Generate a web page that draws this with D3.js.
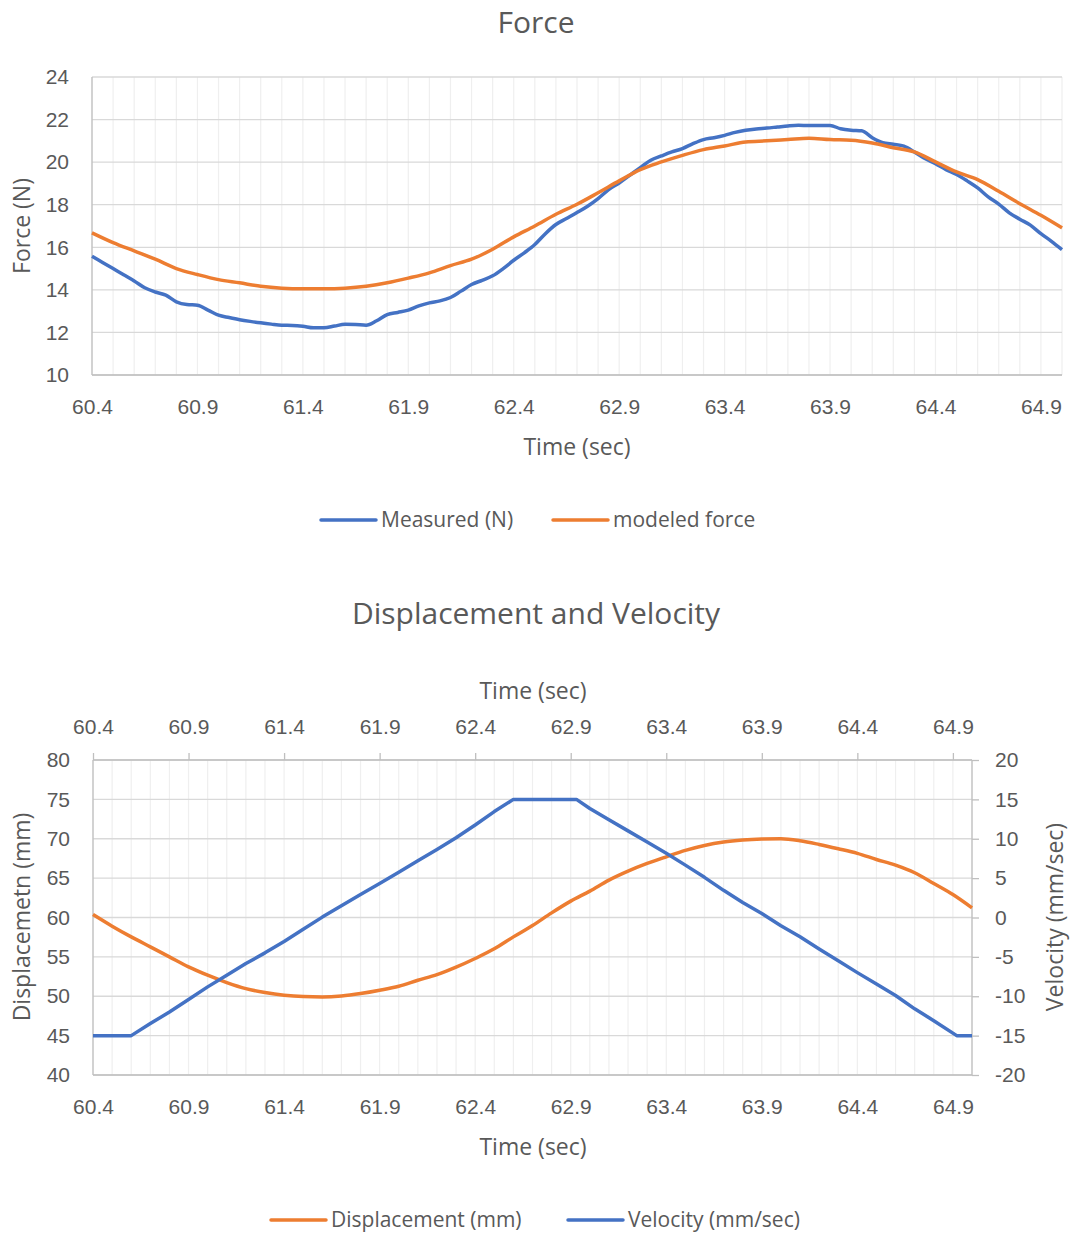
<!DOCTYPE html>
<html>
<head>
<meta charset="utf-8">
<script src="https://cdn.jsdelivr.net/npm/d3@7"></script>
<style>
  body { margin: 0; background: #fff; }
  svg { display: block; font-family: "Open Sans", sans-serif; }
  text { fill: #595959; }
</style>
</head>
<body>
<svg width="1072" height="1236"></svg>
<script>
// time axis (sec), 0.1 s steps
var time = [60.4, 60.5, 60.6, 60.7, 60.8, 60.9, 61.0, 61.1, 61.2, 61.3, 61.4, 61.5, 61.6, 61.7, 61.8, 61.9,
    62.0, 62.1, 62.2, 62.3, 62.4, 62.5, 62.6, 62.7, 62.8, 62.9, 63.0, 63.1, 63.2, 63.3, 63.4, 63.5, 63.6,
    63.7, 63.8, 63.9, 64.0, 64.1, 64.2, 64.3, 64.4, 64.5, 64.6, 64.7, 64.8, 64.9, 65.0];

// measured force is sampled finer (0.05 s) to keep its wiggles
var timeFine = [60.40, 60.45, 60.50, 60.55, 60.60, 60.65, 60.70, 60.75, 60.80, 60.85, 60.90, 60.95,
    61.00, 61.05, 61.10, 61.15, 61.20, 61.25, 61.30, 61.35, 61.40, 61.45, 61.50, 61.55, 61.60, 61.65,
    61.70, 61.75, 61.80, 61.85, 61.90, 61.95, 62.00, 62.05, 62.10, 62.15, 62.20, 62.25, 62.30, 62.35,
    62.40, 62.45, 62.50, 62.55, 62.60, 62.65, 62.70, 62.75, 62.80, 62.85, 62.90, 62.95, 63.00, 63.05,
    63.10, 63.15, 63.20, 63.25, 63.30, 63.35, 63.40, 63.45, 63.50, 63.55, 63.60, 63.65, 63.70, 63.75,
    63.80, 63.85, 63.90, 63.95, 64.00, 64.05, 64.10, 64.15, 64.20, 64.25, 64.30, 64.35, 64.40, 64.45,
    64.50, 64.55, 64.60, 64.65, 64.70, 64.75, 64.80, 64.85, 64.90, 64.95, 65.00];

var measured = [15.58, 15.29, 15.0, 14.71, 14.42, 14.1, 13.9, 13.75, 13.44, 13.31, 13.28, 13.05,
    12.81, 12.7, 12.6, 12.52, 12.45, 12.39, 12.34, 12.33, 12.29, 12.22, 12.22, 12.3, 12.38, 12.37,
    12.34, 12.55, 12.84, 12.94, 13.05, 13.25, 13.39, 13.48, 13.64, 13.94, 14.25, 14.45, 14.66, 15.0,
    15.39, 15.74, 16.13, 16.64, 17.07, 17.35, 17.63, 17.93, 18.29, 18.71, 19.02, 19.38, 19.74, 20.09,
    20.29, 20.48, 20.64, 20.87, 21.06, 21.15, 21.26, 21.4, 21.5, 21.56, 21.6, 21.65, 21.7, 21.73,
    21.72, 21.72, 21.72, 21.57, 21.5, 21.47, 21.15, 20.92, 20.84, 20.75, 20.48, 20.17, 19.93, 19.65,
    19.42, 19.12, 18.79, 18.37, 18.03, 17.62, 17.32, 17.04, 16.64, 16.28, 15.89];

var modeled = [16.68, 16.22, 15.83, 15.44, 15.0, 14.72, 14.48, 14.33, 14.17, 14.08, 14.05, 14.05,
    14.08, 14.17, 14.33, 14.55, 14.8, 15.14, 15.44, 15.91, 16.49, 17.0, 17.55, 18.02, 18.56, 19.12,
    19.65, 20.01, 20.32, 20.59, 20.76, 20.95, 21.0, 21.06, 21.12, 21.06, 21.03, 20.9, 20.68, 20.48,
    20.01, 19.54, 19.18, 18.63, 18.05, 17.5, 16.91];

var displacement = [60.38, 58.9, 57.54, 56.27, 55.0, 53.73, 52.67, 51.74, 50.97, 50.47, 50.13, 49.96,
    49.92, 50.04, 50.34, 50.76, 51.27, 52.03, 52.75, 53.69, 54.79, 56.02, 57.54, 58.98, 60.59, 62.08,
    63.35, 64.75, 65.89, 66.86, 67.71, 68.52, 69.15, 69.58, 69.83, 69.96, 70.0, 69.75, 69.28, 68.73,
    68.14, 67.37, 66.65, 65.68, 64.32, 62.92, 61.23];

// velocity has its own times so the corners of the plateaus sit where they are
var velTime = [60.4, 60.5, 60.6, 60.7, 60.8, 60.9, 61.0, 61.1, 61.2, 61.3, 61.4, 61.5, 61.6, 61.7,
    61.8, 61.9, 62.0, 62.1, 62.2, 62.3, 62.4, 62.5, 62.6, 62.7, 62.8, 62.93, 63.0, 63.1, 63.2, 63.3,
    63.4, 63.5, 63.6, 63.7, 63.8, 63.9, 64.0, 64.1, 64.2, 64.3, 64.4, 64.5, 64.6, 64.7, 64.8, 64.92, 65.0];
var velocity = [-15, -15, -15, -13.47, -12.0, -10.42, -8.81, -7.33, -5.85, -4.49, -3.05, -1.5, 0.05,
    1.5, 2.92, 4.32, 5.75, 7.2, 8.64, 10.13, 11.75, 13.45, 15, 15, 15, 15, 13.85, 12.4, 11.0, 9.6,
    8.15, 6.65, 5.1, 3.45, 1.9, 0.5, -1.05, -2.45, -4.0, -5.5, -7.0, -8.45, -9.9, -11.6, -13.1,
    -15, -15];

var timeTicks = [60.4, 60.9, 61.4, 61.9, 62.4, 62.9, 63.4, 63.9, 64.4, 64.9];
var forceTicks = [10, 12, 14, 16, 18, 20, 22, 24];
var dispTicks = [40, 45, 50, 55, 60, 65, 70, 75, 80];
var velTicks = [-20, -15, -10, -5, 0, 5, 10, 15, 20];

var BLUE = "#4472c4", ORANGE = "#ed7d31";

var svg = d3.select("svg");
var fmt = d3.format(".1f");
var plain = function(d) { return String(d); };   // keep ASCII hyphen for negatives
var minor = d3.range(0, 47).map(function(i) { return 60.4 + i * 0.1; });

function styleAxis(g, size) {
    g.selectAll("text").style("font-size", size + "px").style("fill", "#595959");
    g.selectAll(".tick line").attr("stroke", "#bfbfbf").attr("stroke-width", 1.3);
    g.select(".domain").remove();
}

function grid(g, x, y, yTicks, x0, x1, y0, y1) {
    g.selectAll(".vg").data(minor).enter().append("line")
        .attr("x1", x).attr("x2", x).attr("y1", y0).attr("y2", y1)
        .attr("stroke", "#efefef").attr("stroke-width", 1.2);
    g.selectAll(".hg").data(yTicks).enter().append("line")
        .attr("x1", x0).attr("x2", x1).attr("y1", y).attr("y2", y)
        .attr("stroke", "#d9d9d9").attr("stroke-width", 1.3);
}

function legend(items, cy) {
    items.forEach(function(it) {
        svg.append("line").attr("x1", it.x).attr("x2", it.x + 55).attr("y1", cy).attr("y2", cy)
            .attr("stroke", it.color).attr("stroke-width", 3.5).attr("stroke-linecap", "round");
        svg.append("text").attr("x", it.x + 60).attr("y", cy).attr("dy", "0.35em")
            .style("font-size", "21px").text(it.label);
    });
}

// ---------- Force ----------
var fx = d3.scaleLinear().domain([60.4, 65.0]).range([92, 1062]);
var fy = d3.scaleLinear().domain([10, 24]).range([375, 77]);

svg.append("text").attr("x", 536).attr("y", 22).attr("dy", "0.35em")
    .attr("text-anchor", "middle").style("font-size", "30px").text("Force");

grid(svg.append("g"), function(d) { return fx(d); }, function(d) { return fy(d); },
    forceTicks, 92, 1062, 77, 375);

svg.append("line").attr("x1", 92).attr("x2", 92).attr("y1", 77).attr("y2", 375)
    .attr("stroke", "#bfbfbf").attr("stroke-width", 1.3);
svg.append("line").attr("x1", 92).attr("x2", 1062).attr("y1", 375).attr("y2", 375)
    .attr("stroke", "#bfbfbf").attr("stroke-width", 1.3);

svg.append("g").attr("transform", "translate(0,375)")
    .call(d3.axisBottom(fx).tickValues(timeTicks).tickFormat(fmt).tickSize(0).tickPadding(24))
    .call(styleAxis, 21);
svg.append("g").attr("transform", "translate(92,0)")
    .call(d3.axisLeft(fy).tickValues(forceTicks).tickFormat(plain).tickSize(0).tickPadding(23))
    .call(styleAxis, 21);

var lineF = d3.line().curve(d3.curveMonotoneX);
svg.append("path")
    .attr("d", lineF(timeFine.map(function(t, i) { return [fx(t), fy(measured[i])]; })))
    .attr("fill", "none").attr("stroke", BLUE).attr("stroke-width", 3.5).attr("stroke-linejoin", "round");
svg.append("path")
    .attr("d", lineF(time.map(function(t, i) { return [fx(t), fy(modeled[i])]; })))
    .attr("fill", "none").attr("stroke", ORANGE).attr("stroke-width", 3.5).attr("stroke-linejoin", "round");

svg.append("text").attr("x", 577).attr("y", 447).attr("dy", "0.35em")
    .attr("text-anchor", "middle").style("font-size", "23px").text("Time (sec)");
svg.append("text").attr("transform", "translate(22,226) rotate(-90)").attr("dy", "0.35em")
    .attr("text-anchor", "middle").style("font-size", "23px").text("Force (N)");

legend([{ x: 321, color: BLUE, label: "Measured (N)" },
        { x: 553, color: ORANGE, label: "modeled force" }], 520);

// ---------- Displacement and Velocity ----------
var dx = d3.scaleLinear().domain([60.4, 65.0]).range([93, 972]);
var dy = d3.scaleLinear().domain([40, 80]).range([1075, 760]);
var vy = d3.scaleLinear().domain([-20, 20]).range([1075, 760]);

svg.append("text").attr("x", 536).attr("y", 613).attr("dy", "0.35em")
    .attr("text-anchor", "middle").style("font-size", "30px").text("Displacement and Velocity");

grid(svg.append("g"), function(d) { return dx(d); }, function(d) { return dy(d); },
    dispTicks, 93, 972, 760, 1075);

[[93, 93, 760, 1075], [972, 972, 760, 1075], [93, 972, 1075, 1075], [93, 972, 760, 760]].forEach(function(l) {
    svg.append("line").attr("x1", l[0]).attr("x2", l[1]).attr("y1", l[2]).attr("y2", l[3])
        .attr("stroke", "#bfbfbf").attr("stroke-width", 1.3);
});

svg.append("g").attr("transform", "translate(0,760)")
    .call(d3.axisTop(dx).tickValues(timeTicks).tickFormat(fmt).tickSize(7).tickPadding(19))
    .call(styleAxis, 21);
svg.append("g").attr("transform", "translate(0,1075)")
    .call(d3.axisBottom(dx).tickValues(timeTicks).tickFormat(fmt).tickSize(0).tickPadding(24))
    .call(styleAxis, 21);
svg.append("g").attr("transform", "translate(93,0)")
    .call(d3.axisLeft(dy).tickValues(dispTicks).tickFormat(plain).tickSize(0).tickPadding(23))
    .call(styleAxis, 21);
svg.append("g").attr("transform", "translate(972,0)")
    .call(d3.axisRight(vy).tickValues(velTicks).tickFormat(plain).tickSize(7).tickPadding(16))
    .call(styleAxis, 21);

svg.append("path")
    .attr("d", d3.line().curve(d3.curveMonotoneX)(time.map(function(t, i) { return [dx(t), dy(displacement[i])]; })))
    .attr("fill", "none").attr("stroke", ORANGE).attr("stroke-width", 3.5).attr("stroke-linejoin", "round");
svg.append("path")
    .attr("d", d3.line()(velTime.map(function(t, i) { return [dx(t), vy(velocity[i])]; })))
    .attr("fill", "none").attr("stroke", BLUE).attr("stroke-width", 3.5).attr("stroke-linejoin", "round");

svg.append("text").attr("x", 533).attr("y", 691).attr("dy", "0.35em")
    .attr("text-anchor", "middle").style("font-size", "23px").text("Time (sec)");
svg.append("text").attr("x", 533).attr("y", 1147).attr("dy", "0.35em")
    .attr("text-anchor", "middle").style("font-size", "23px").text("Time (sec)");
svg.append("text").attr("transform", "translate(22,917) rotate(-90)").attr("dy", "0.35em")
    .attr("text-anchor", "middle").style("font-size", "23px").text("Displacemetn (mm)");
svg.append("text").attr("transform", "translate(1055,917) rotate(-90)").attr("dy", "0.35em")
    .attr("text-anchor", "middle").style("font-size", "23px").text("Velocity (mm/sec)");

legend([{ x: 271, color: ORANGE, label: "Displacement (mm)" },
        { x: 568, color: BLUE, label: "Velocity (mm/sec)" }], 1220);
</script>
</body>
</html>
